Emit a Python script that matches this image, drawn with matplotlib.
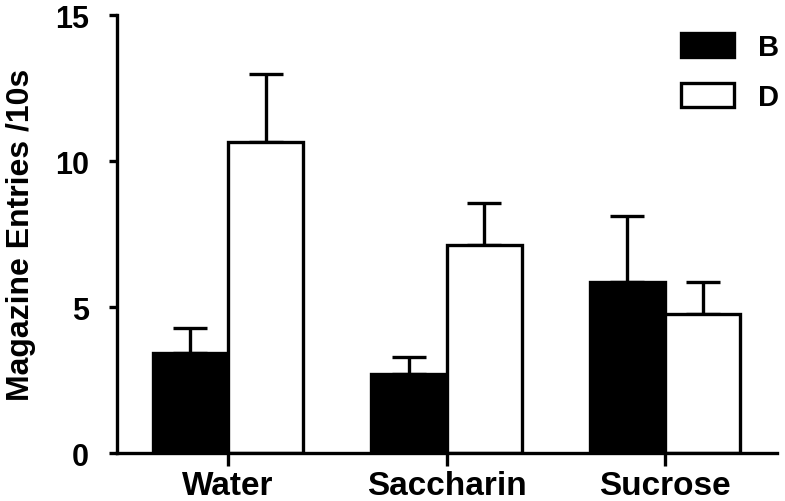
import numpy as np
import matplotlib
matplotlib.use("Agg")
import matplotlib.pyplot as plt
from matplotlib.patches import Patch

plt.rcParams['font.family'] = ['Liberation Sans', 'DejaVu Sans']
plt.rcParams['font.weight'] = 'bold'

# data
groups = ['Water', 'Saccharin', 'Sucrose']
b_mean = [3.42, 2.70, 5.86]
b_sem = [0.86, 0.59, 2.26]
d_mean = [10.65, 7.12, 4.76]
d_sem = [2.35, 1.44, 1.10]

x = np.arange(len(groups))
w = 0.345
lw = 2.4

fig = plt.figure(figsize=(7.85, 5.02), dpi=100)
ax = fig.add_axes([0.149, 0.0956, 0.841, 0.872])

ax.bar(x - w / 2, b_mean, w, color='black', edgecolor='black', linewidth=lw, zorder=2)
ax.bar(x + w / 2, d_mean, w, color='white', edgecolor='black', linewidth=lw, zorder=2)
ax.errorbar(x - w / 2, b_mean, yerr=[np.zeros(3), b_sem], fmt='none', ecolor='black',
            elinewidth=lw, capsize=12.5, capthick=lw, zorder=1)
ax.errorbar(x + w / 2, d_mean, yerr=[np.zeros(3), d_sem], fmt='none', ecolor='black',
            elinewidth=lw, capsize=12.5, capthick=lw, zorder=1)

ax.set_xlim(-0.508, 2.513)
ax.set_ylim(0, 15)
ax.set_yticks([0, 5, 10, 15])
ax.set_xticks(x)
ax.set_xticklabels(groups, fontsize=24, fontweight='bold')
ax.tick_params(axis='y', labelsize=22, width=lw, length=6, pad=14)
ax.tick_params(axis='x', width=lw, length=9, pad=3)
for t in ax.get_yticklabels():
    t.set_fontweight('bold')

for s in ['top', 'right']:
    ax.spines[s].set_visible(False)
for s in ['left', 'bottom']:
    ax.spines[s].set_linewidth(lw)

ax.set_ylabel('Magazine Entries /10s', fontsize=23, fontweight='bold', labelpad=14)

handles = [Patch(facecolor='black', edgecolor='black', linewidth=lw),
           Patch(facecolor='white', edgecolor='black', linewidth=lw)]
fig.legend(handles, ['B', 'D'], loc='upper right', bbox_to_anchor=(1.008, 0.955),
           frameon=False, fontsize=21, handlelength=1.8, handleheight=0.86,
           labelspacing=0.75, handletextpad=0.85, borderaxespad=0)

plt.savefig('out.png', dpi=100)
